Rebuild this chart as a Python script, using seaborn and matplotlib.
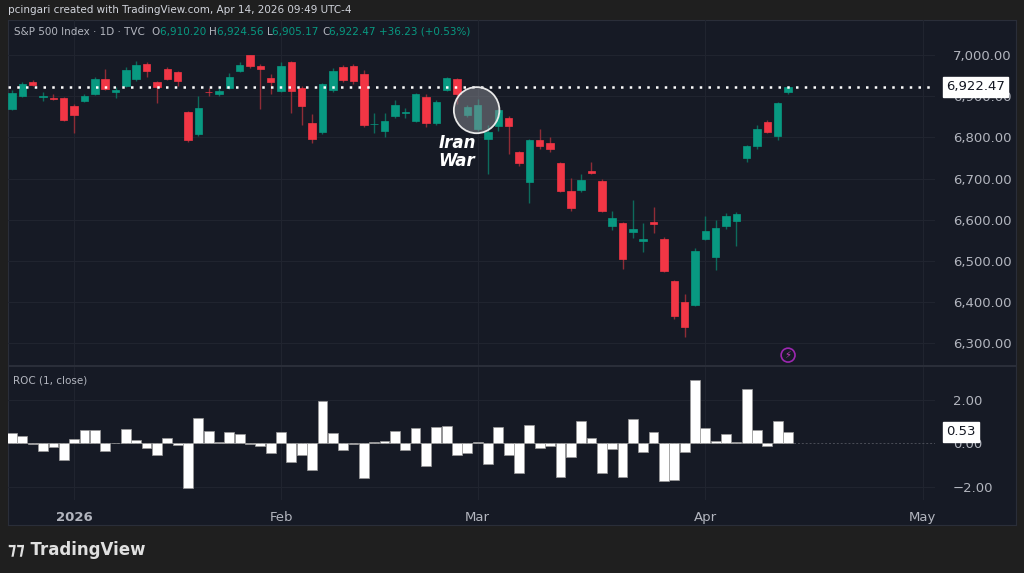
import numpy as np
import pandas as pd
import seaborn as sns
import matplotlib.pyplot as plt
from matplotlib.patches import Ellipse

# daily candles, Dec 23 2025 .. Apr 14 2026 (trading-day index)
opens = [6869, 6900, 6934, 6899, 6896, 6896, 6876, 6888, 6905, 6942, 6910, 6925, 6942, 6978, 6934, 6966,
         6959, 6861, 6808, 6911, 6905, 6920, 6961, 7000, 6973, 6944, 6913, 6983, 6920, 6835, 6813, 6915,
         6971, 6973, 6954, 6832, 6815, 6852, 6859, 6840, 6898, 6835, 6915, 6942, 6854, 6820, 6796, 6827,
         6847, 6764, 6691, 6793, 6786, 6738, 6670, 6672, 6718, 6694, 6584, 6592, 6570, 6548, 6594, 6553,
         6451, 6400, 6392, 6553, 6509, 6584, 6597, 6750, 6779, 6837, 6803, 6910.20]
closes = [6908, 6930, 6927, 6901, 6893, 6842, 6854, 6900, 6942, 6917, 6915, 6964, 6976, 6961, 6922, 6942,
          6937, 6793, 6871, 6909, 6913, 6947, 6976, 6973, 6966, 6934, 6973, 6913, 6876, 6796, 6930, 6961,
          6939, 6937, 6830, 6833, 6840, 6878, 6860, 6905, 6835, 6886, 6944, 6905, 6874, 6878, 6813, 6866,
          6827, 6738, 6793, 6779, 6772, 6670, 6628, 6696, 6713, 6621, 6604, 6504, 6577, 6553, 6589, 6475,
          6366, 6339, 6524, 6572, 6580, 6609, 6614, 6779, 6820, 6813, 6883, 6922.47]
highs = [6915, 6935, 6940, 6910, 6905, 6898, 6880, 6905, 6947, 6966, 6922, 6970, 6985, 6982, 6937, 6971,
         6962, 6864, 6900, 6920, 6920, 6956, 6983, 7001, 6978, 6954, 6983, 6985, 6925, 6856, 6932, 6968,
         6976, 6978, 6963, 6860, 6860, 6890, 6872, 6908, 6905, 6890, 6947, 6945, 6878, 6892, 6830, 6870,
         6852, 6766, 6796, 6820, 6800, 6740, 6702, 6712, 6740, 6698, 6620, 6594, 6648, 6592, 6630, 6558,
         6453, 6420, 6530, 6610, 6600, 6615, 6618, 6782, 6830, 6843, 6885, 6924.56]
lows = [6866, 6897, 6924, 6888, 6890, 6840, 6810, 6885, 6902, 6914, 6895, 6922, 6937, 6946, 6883, 6939,
        6925, 6788, 6803, 6900, 6900, 6917, 6958, 6968, 6869, 6905, 6910, 6859, 6830, 6786, 6808, 6910,
        6935, 6930, 6825, 6810, 6800, 6848, 6848, 6837, 6825, 6830, 6913, 6880, 6850, 6815, 6710, 6815,
        6760, 6730, 6640, 6772, 6765, 6668, 6622, 6668, 6711, 6619, 6576, 6480, 6555, 6521, 6567, 6472,
        6358, 6315, 6390, 6550, 6478, 6577, 6535, 6740, 6772, 6810, 6793, 6905.17]
roc = [0.47, 0.32, -0.05, -0.35, -0.15, -0.75, 0.18, 0.63, 0.63, -0.35, 0.03, 0.66, 0.17, -0.20, -0.55, 0.26,
       -0.06, -2.06, 1.16, 0.56, 0.05, 0.50, 0.41, -0.02, -0.14, -0.44, 0.53, -0.85, -0.52, -1.22, 1.95, 0.49,
       -0.32, -0.03, -1.59, 0.06, 0.12, 0.56, -0.29, 0.69, -1.05, 0.75, 0.81, -0.55, -0.44, 0.06, -0.96, 0.76,
       -0.55, -1.34, 0.84, -0.21, -0.11, -1.54, -0.61, 1.01, 0.24, -1.36, -0.27, -1.53, 1.13, -0.38, 0.53, -1.74,
       -1.66, -0.41, 2.90, 0.72, 0.11, 0.44, 0.08, 2.50, 0.63, -0.11, 1.02, 0.53]
month_pos = [6, 26, 45, 67, 88]
month_labels = ['2026', 'Feb', 'Mar', 'Apr', 'May']
price_ticks = [6300, 6400, 6500, 6600, 6700, 6800, 6900, 7000]

BG = '#161a25'
OUTER = '#1f1f1f'
GRID = '#20242f'
TXT = '#b2b5be'
UP, DOWN = '#089981', '#f23645'

df = pd.DataFrame({'i': np.arange(len(opens)), 'open': opens, 'close': closes,
                   'high': highs, 'low': lows, 'roc': roc})
df['up'] = df['close'] >= df['open']

sns.set_style('dark')
plt.rcParams['font.family'] = ['DejaVu Sans']
fig = plt.figure(figsize=(10.24, 5.73), dpi=100, facecolor=OUTER)

# panel background
bg = fig.add_axes([8 / 1024, 1 - 525 / 573, 1008 / 1024, 505 / 573], zorder=-10)
bg.set_facecolor(BG)
bg.set_xticks([])
bg.set_yticks([])
bg.set_ylim(0, 1)
for s in bg.spines.values():
    s.set_color('#2a2e39')
bg.axhline(1 - 346 / 505, color='#2a2e39', lw=1.5)

ax = fig.add_axes([8 / 1024, 1 - 365 / 573, 927 / 1024, 345 / 573])
ax2 = fig.add_axes([8 / 1024, 1 - 500 / 573, 927 / 1024, 133 / 573], sharex=ax)
for a in (ax, ax2):
    a.patch.set_alpha(0)
    for s in a.spines.values():
        s.set_visible(False)
    for m in month_pos:
        a.axvline(m, color=GRID, lw=0.8, zorder=0)
    a.tick_params(axis='both', length=0, colors=TXT, labelsize=9.5)
    a.yaxis.tick_right()

# candles
for up, col, wick in [(True, UP, '#0d6b5c'), (False, DOWN, '#8f2c36')]:
    d = df[df['up'] == up]
    ax.vlines(d['i'], d['low'], d['high'], color=wick, lw=1, zorder=2)
    body = (d['close'] - d['open']).abs().clip(lower=1.5)
    ax.bar(d['i'], body, bottom=d[['open', 'close']].min(axis=1), width=0.72,
           color=col, edgecolor=col, lw=0.5, zorder=3)

ax.set_ylim(6247, 7085)
ax.set_xlim(-0.39, 89.2)
ax.set_yticks(price_ticks)
ax.set_yticklabels([f'{v:,.2f}' for v in price_ticks])
for v in price_ticks:
    ax.axhline(v, color=GRID, lw=0.8, zorder=0)
ax.tick_params(axis='y', pad=13)
ax.tick_params(axis='x', labelbottom=False)
ax.axhline(closes[-1], color='white', lw=1.8, ls=(0, (1, 2.5)), zorder=4)
ax.text(1.012, closes[-1], f'{closes[-1]:,.2f}', transform=ax.get_yaxis_transform(), va='center', ha='left',
        fontsize=9.5, color='#131722', zorder=6,
        bbox=dict(boxstyle='square,pad=0.25', fc='white', ec='white'), clip_on=False)

# Iran War marker
ax.add_patch(Ellipse((44.9, 6866), width=4.4, height=112, fc='#8a8d94', alpha=0.5, ec='none', zorder=5))
ax.add_patch(Ellipse((44.9, 6866), width=4.4, height=112, fc='none', ec='#e8e8e8', lw=1.3, zorder=5))
ax.text(43.0, 6808, 'Iran\nWar', color='white', fontsize=12, fontweight='bold', style='italic',
        ha='center', va='top', linespacing=1.0, zorder=6)
ax.text(75, 6271, '⚡', color='#c23cbf', fontsize=7, ha='center', va='center',
        bbox=dict(boxstyle='circle,pad=0.2', fc=BG, ec='#9c27b0', lw=1.2))

# ROC panel
sns.barplot(data=df, x='i', y='roc', native_scale=True, ax=ax2, color='white', saturation=1,
            edgecolor='#9a9a9a', linewidth=0.5, width=0.95, zorder=3)
ax2.set_ylim(-2.6, 3.5)
ax2.set_yticks([-2, 0, 2])
ax2.set_yticklabels(['−2.00', '0.00', '2.00'])
ax2.tick_params(axis='y', pad=13)
for v in (-2, 2):
    ax2.axhline(v, color=GRID, lw=0.8, zorder=0)
ax2.axhline(0, color='#4a4d57', lw=0.7, ls=(0, (2, 2)), zorder=2)
ax2.set_xlabel('')
ax2.set_ylabel('')
ax2.set_xlim(-0.39, 89.2)
ax2.set_xticks(month_pos)
ax2.set_xticklabels(month_labels)
ax2.tick_params(axis='x', pad=8)
for lbl in ax2.get_xticklabels():
    if lbl.get_text() == '2026':
        lbl.set_fontweight('bold')
ax2.text(1.012, roc[-1], f'{roc[-1]:.2f}', transform=ax2.get_yaxis_transform(), va='center', ha='left',
         fontsize=9.5, color='#131722', zorder=6,
         bbox=dict(boxstyle='square,pad=0.25', fc='white', ec='white'), clip_on=False)
ax2.text(5 / 927, 0.9, 'ROC (1, close)', transform=ax2.transAxes, color=TXT, fontsize=7.5, va='center')

# header texts
fig.text(8 / 1024, 1 - 10 / 573, 'pcingari created with TradingView.com, Apr 14, 2026 09:49 UTC-4',
         color='#d1d4dc', fontsize=7.5, va='center')
y0 = 1 - 32 / 573
parts = [('S&P 500 Index · 1D · TVC  ', TXT), ('O', TXT), ('6,910.20 ', UP), ('H', TXT), ('6,924.56 ', UP),
         ('L', TXT), ('6,905.17 ', UP), ('C', TXT), ('6,922.47 ', UP), ('+36.23 (+0.53%)', UP)]
x = 14 / 1024
rend = fig.canvas.get_renderer()
for s, c in parts:
    t = fig.text(x, y0, s, color=c, fontsize=7.5, va='center')
    w = t.get_window_extent(renderer=rend).width
    x += w / 1024
fig.text(8 / 1024, 1 - 550 / 573, '⁊⁊ TradingView', color='#e0e0e0', fontsize=12, fontweight='bold',
         va='center')

fig.savefig('out.png', dpi=100, facecolor=OUTER)
